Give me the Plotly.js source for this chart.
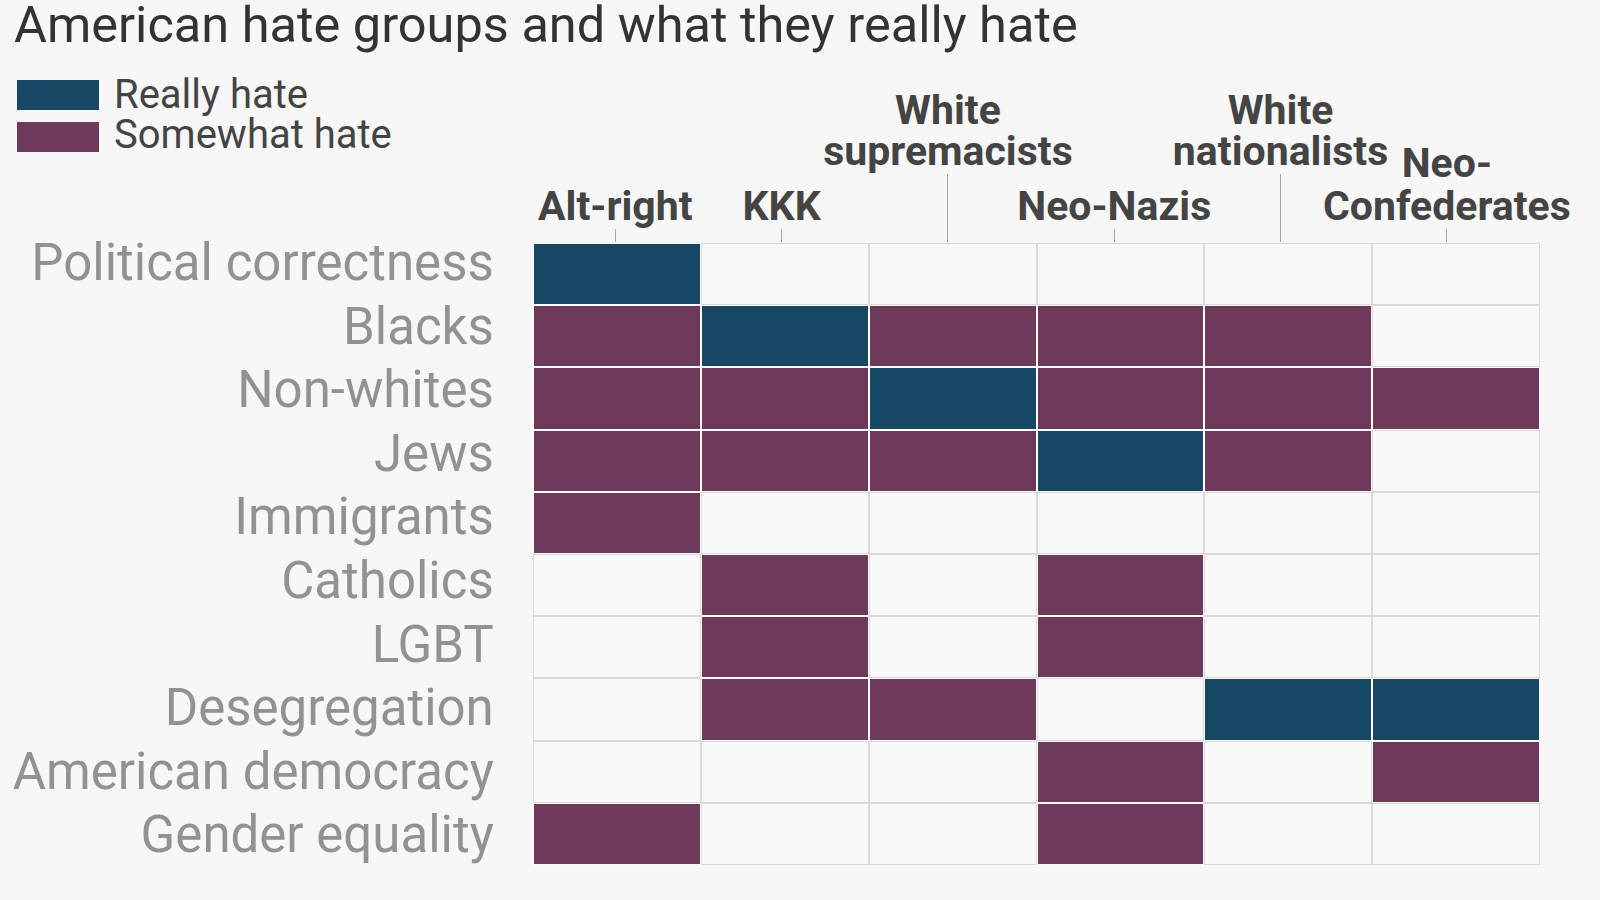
<!DOCTYPE html>
<html>
<head>
<meta charset="utf-8">
<script src="https://cdn.plot.ly/plotly-3.0.1.min.js"></script>
<style>
  html, body { margin: 0; padding: 0; background: #f7f7f7; }
  #chart { width: 1600px; height: 900px; }
</style>
</head>
<body>
<div id="chart"></div>
<script>
// ---- data ----
const groups = ["Alt-right", "KKK", "White supremacists", "Neo-Nazis", "White nationalists", "Neo-Confederates"];
const targets = ["Political correctness", "Blacks", "Non-whites", "Jews", "Immigrants", "Catholics", "LGBT", "Desegregation", "American democracy", "Gender equality"];
// 0 = not listed, 1 = somewhat hate, 2 = really hate (columns follow `groups`)
const politicalCorrectness = [2, 0, 0, 0, 0, 0];
const blacks               = [1, 2, 1, 1, 1, 0];
const nonWhites            = [1, 1, 2, 1, 1, 1];
const jews                 = [1, 1, 1, 2, 1, 0];
const immigrants           = [1, 0, 0, 0, 0, 0];
const catholics            = [0, 1, 0, 1, 0, 0];
const lgbt                 = [0, 1, 0, 1, 0, 0];
const desegregation        = [0, 1, 1, 0, 2, 2];
const americanDemocracy    = [0, 0, 0, 1, 0, 1];
const genderEquality       = [1, 0, 0, 1, 0, 0];
const legendLabels = ["Really hate", "Somewhat hate"];

const zRows = [politicalCorrectness, blacks, nonWhites, jews, immigrants, catholics, lgbt, desegregation, americanDemocracy, genderEquality];

// ---- styling ----
const BLUE = "#164866", PURPLE = "#6f3a59", EMPTY = "#f9f9f9", GRID = "#d9d9d9", BG = "#f7f7f7";
const L = 533, R = 1540, T = 243, B = 865;
const pxX = v => (v - L) / (R - L);
const pxY = v => (B - v) / (B - T);
const xRange = [-0.5, groups.length - 0.5];
const yRange = [targets.length - 0.5, -0.5];
// label scales in the original are slightly tighter than the cell grid
const xLabelRange = [-0.495, 5.56];
const yLabelRange = [9.478, -0.302];

const labelFont = {family: "Roboto", size: 41, color: "#444444", weight: 700};

// bottom layer: border colours (grey between empty cells, white next to filled cells)
const borderLayer = {
  type: "heatmap", x: groups, y: targets, z: zRows, xaxis: "x", yaxis: "y",
  zmin: 0, zmax: 2, showscale: false, hoverinfo: "skip",
  colorscale: [[0, GRID], [0.25, GRID], [0.25, "#ffffff"], [1, "#ffffff"]]
};
// top layer: the cells
const cellLayer = {
  type: "heatmap", x: groups, y: targets, z: zRows, xaxis: "x", yaxis: "y",
  zmin: 0, zmax: 2, showscale: false, xgap: 2, ygap: 2,
  hovertemplate: "%{y} – %{x}<extra></extra>",
  colorscale: [[0, EMPTY], [0.25, EMPTY], [0.25, PURPLE], [0.75, PURPLE], [0.75, BLUE], [1, BLUE]]
};
// invisible helpers so that the label axes get drawn
const helper = (xa, ya) => ({
  type: "scatter", mode: "markers", x: [groups[0]], y: [targets[0]],
  xaxis: xa, yaxis: ya, marker: {opacity: 0, size: 1}, hoverinfo: "skip", showlegend: false
});

const commonX = {
  type: "category", categoryorder: "array", categoryarray: groups,
  range: xLabelRange, autorange: false, overlaying: "x", anchor: "y",
  side: "top", showgrid: false, zeroline: false, showline: false,
  ticks: "outside", tickcolor: "#a6a6a6", tickwidth: 1,
  tickfont: labelFont, fixedrange: true, ticklabelstandoff: -7, tickmode: "array"
};

const layout = {
  width: 1600, height: 900,
  paper_bgcolor: BG, plot_bgcolor: BG,
  margin: {l: L, r: 1600 - R, t: T, b: 900 - B, pad: 0},
  showlegend: false,
  title: {
    text: "American hate groups and what they really hate",
    font: {family: "Roboto", size: 50.5, color: "#333333"},
    xref: "container", yref: "container", x: 14 / 1600, xanchor: "left",
    y: 1 - 24 / 900, yanchor: "middle"
  },
  xaxis: {
    type: "category", categoryorder: "array", categoryarray: groups,
    range: xRange, autorange: false, side: "top",
    showgrid: false, zeroline: false, showline: false,
    showticklabels: false, ticks: "", fixedrange: true
  },
  xaxis2: Object.assign({}, commonX, {
    tickvals: [groups[0], groups[1], groups[3], groups[5]],
    ticktext: ["Alt-right", "KKK", "Neo-Nazis", "Confederates"], ticklen: 13
  }),
  xaxis3: Object.assign({}, commonX, {
    tickvals: [groups[2], groups[4]],
    ticktext: ["supremacists", "nationalists"], ticklen: 68
  }),
  xaxis4: Object.assign({}, commonX, {
    tickvals: [groups[2], groups[4]],
    ticktext: ["White", "White"], ticklen: 109, tickcolor: "rgba(0,0,0,0)"
  }),
  xaxis5: Object.assign({}, commonX, {
    tickvals: [groups[5]],
    ticktext: ["Neo-"], ticklen: 56, tickcolor: "rgba(0,0,0,0)"
  }),
  yaxis: {
    type: "category", categoryorder: "array", categoryarray: targets,
    range: yRange, autorange: false, showgrid: false, zeroline: false, showline: false,
    showticklabels: false, ticks: "", fixedrange: true
  },
  yaxis2: {
    type: "category", categoryorder: "array", categoryarray: targets,
    overlaying: "y", side: "left", anchor: "x",
    range: yLabelRange, autorange: false, showgrid: false, zeroline: false, showline: false,
    ticks: "outside", ticklen: 28, tickcolor: "rgba(0,0,0,0)",
    tickfont: {family: "Roboto", size: 51, color: "#929292"}, fixedrange: true
  },
  shapes: [
    {type: "rect", xref: "paper", yref: "paper", x0: pxX(17), x1: pxX(99), y0: pxY(110), y1: pxY(80), fillcolor: BLUE, line: {width: 0}},
    {type: "rect", xref: "paper", yref: "paper", x0: pxX(17), x1: pxX(99), y0: pxY(152), y1: pxY(122), fillcolor: PURPLE, line: {width: 0}}
  ],
  annotations: [
    {text: legendLabels[0], xref: "paper", yref: "paper", x: pxX(112), y: pxY(94), xanchor: "left", yanchor: "middle", showarrow: false,
     font: {family: "Roboto", size: 40, color: "#444444"}},
    {text: legendLabels[1], xref: "paper", yref: "paper", x: pxX(112), y: pxY(135), xanchor: "left", yanchor: "middle", showarrow: false,
     font: {family: "Roboto", size: 40, color: "#444444"}}
  ]
};

Plotly.newPlot("chart", [borderLayer, cellLayer,
  helper("x2", "y"), helper("x3", "y"), helper("x4", "y"), helper("x5", "y"), helper("x", "y2")],
  layout, {displayModeBar: false});
</script>
</body>
</html>
